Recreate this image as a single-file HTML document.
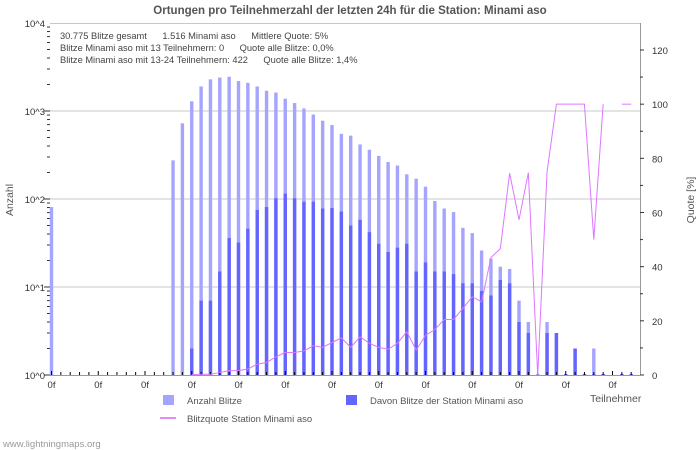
<!DOCTYPE html>
<html><head><meta charset="utf-8"><style>
body{margin:0;background:#fff;}
svg{display:block;font-family:"Liberation Sans","DejaVu Sans",sans-serif;}
</style></head><body>
<svg id="c" width="700" height="450" viewBox="0 0 700 450">
<text x="350" y="14" text-anchor="middle" font-size="11.5" font-weight="bold" fill="#555">Ortungen pro Teilnehmerzahl der letzten 24h für die Station: Minami aso</text>
<g font-size="9.3" fill="#444">
<text x="60" y="39">30.775 Blitze gesamt &#160;&#160;&#160;&#160;&#160;1.516 Minami aso &#160;&#160;&#160;&#160;&#160;Mittlere Quote: 5%</text>
<text x="60" y="51">Blitze Minami aso mit 13 Teilnehmern: 0 &#160;&#160;&#160;&#160;&#160;Quote alle Blitze: 0,0%</text>
<text x="60" y="63">Blitze Minami aso mit 13-24 Teilnehmern: 422 &#160;&#160;&#160;&#160;&#160;Quote alle Blitze: 1,4%</text>
</g>
<text transform="translate(13,200) rotate(-90)" text-anchor="middle" font-size="10.5" fill="#555">Anzahl</text>
<text transform="translate(694,200) rotate(-90)" text-anchor="middle" font-size="10.5" fill="#555">Quote [%]</text>
<text x="590" y="402" font-size="10.5" fill="#555">Teilnehmer</text>
<rect x="163" y="395" width="11" height="10" fill="#a5a5ff"/>
<text x="187" y="404" font-size="9.5" fill="#555">Anzahl Blitze</text>
<rect x="346" y="395" width="11" height="10" fill="#6464ff"/>
<text x="370" y="404" font-size="9.5" fill="#555">Davon Blitze der Station Minami aso</text>
<line x1="160" y1="418" x2="176" y2="418" stroke="#e08cff" stroke-width="2"/>
<text x="187" y="422" font-size="9.5" fill="#555">Blitzquote Station Minami aso</text>
<text x="3" y="447" font-size="9.5" fill="#999">www.lightningmaps.org</text>
<g id="plot"></g>
</svg>
<script>
const totals=[81,0,0,0,0,0,0,0,0,0,0,0,0,275,724,1290,1900,2290,2400,2450,2190,2090,1900,1700,1620,1380,1230,1070,912,776,692,550,525,417,363,309,263,240,191,170,138,95,78,71,47,41,26,21,17,16,7,4,1,4,3,1,2,1,2,1,0,1,1];
const station=[0,0,0,0,0,0,0,0,0,0,0,0,0,0,0,2,7,7,15,36,32,46,75,81,102,115,102,93,93,78,79,72,50,58,42,31,25,28,31,15,19,15,15,14,11,11,9,8,12,11,4,3,0,3,3,1,2,1,1,1,0,1,1];
const quote=[null,null,null,null,null,null,null,null,null,null,null,null,null,null,null,0.15,0.3,0.3,0.9,1.6,1.6,2.2,4.0,4.6,6.7,8.3,8.3,8.9,10.8,10.2,12.0,13.7,10.2,14.1,11.7,10.2,9.5,11.7,16.0,9.2,14.6,16.8,20.5,20.5,24.6,28.9,27.0,43.4,46.6,74.5,57.3,74.7,0,75,100,100,100,100,50,100,null,100,100];
const leftTicks=["10^0","10^1","10^2","10^3","10^4"];
const rightTicks=[0,20,40,60,80,100,120];
const xLabelEvery=5;
const xLabel="0f";

const NS="http://www.w3.org/2000/svg";
const g=document.getElementById('plot');
const X0=50,X1=640,Y0=375,YT=23;
const pitch=9.35,off=1.5;
const xs=i=>X0+off+i*pitch;
const ylog=v=>Y0-Math.log10(v)*(Y0-YT)/4;
const yq=q=>Y0-q*(Y0-50)/120;
function mk(t,a){const e=document.createElementNS(NS,t);for(const k in a)e.setAttribute(k,a[k]);g.appendChild(e);return e;}
for(let d=0;d<=4;d++){
 const y=ylog(Math.pow(10,d));
 if(d>0&&d<4){const l=mk('line',{x1:X0,x2:X1,y1:y,y2:y,stroke:'#c8c8c8','stroke-width':1});
 
 }
 const t=mk('text',{x:45,y:y+4,'text-anchor':'end','font-size':9.5,fill:'#333'});t.textContent=leftTicks[d];
 
 
 if(d<4)for(let m=1;m<=9;m++){const yy=ylog(m*Math.pow(10,d));
  const tk=mk('line',{x1:m==1?44:47,x2:50,y1:yy,y2:yy,stroke:'#333','stroke-width':1});
  
  }
}
const topBorder=mk('line',{x1:X0,x2:X1,y1:YT+0.5,y2:YT+0.5,stroke:'#c8c8c8'});


const ra=mk('line',{x1:X1+0.5,x2:X1+0.5,y1:YT,y2:Y0,stroke:'#999'});


rightTicks.forEach(v=>{const y=yq(v);
 const l=mk('line',{x1:X1,x2:X1+4,y1:y,y2:y,stroke:'#333'});
 
 
 const t=mk('text',{x:652,y:y+4,'font-size':9.5,fill:'#333'});t.textContent=v;
 
 
 if(v<120){const ym=yq(v+10);const m=mk('line',{x1:X1,x2:X1+3,y1:ym,y2:ym,stroke:'#333'});
 
 }
});
totals.forEach((v,i)=>{
 if(v<=0)return;const x=xs(i);const y=Math.min(ylog(v),Y0-1);
 const r=mk('rect',{x:x-1.7,y:y,width:3.4,height:Y0-y,fill:'#a5a5ff'});
 
 
});
station.forEach((v,i)=>{
 if(v<=0)return;const x=xs(i);const y=Math.min(ylog(v),Y0-1);
 const r=mk('rect',{x:x-1.7,y:y,width:3.4,height:Y0-y,fill:'#6464ff'});
 
 
});
const xa=mk('line',{x1:X0,x2:X1,y1:Y0+0.5,y2:Y0+0.5,stroke:'#999'});


totals.forEach((v,i)=>{const x=xs(i);
 const t=mk('line',{x1:x,x2:x,y1:Y0-(i%xLabelEvery==0?4:3),y2:Y0,stroke:'#000'});
 
 
 if(i%xLabelEvery==0){const l=mk('text',{x:x,y:Y0+13,'text-anchor':'middle','font-size':9.5,fill:'#333'});l.textContent=xLabel;
 
 }
});
let seg=[];const segs=[];
quote.forEach((q,i)=>{if(q==null){if(seg.length)segs.push(seg);seg=[];}else seg.push([xs(i),yq(q)]);});
if(seg.length)segs.push(seg);
segs.forEach(s=>{const p=mk('polyline',{points:s.map(a=>a.join(',')).join(' '),fill:'none',stroke:'#dd77ff','stroke-width':1});
 
 
});
</script>
</body></html>
